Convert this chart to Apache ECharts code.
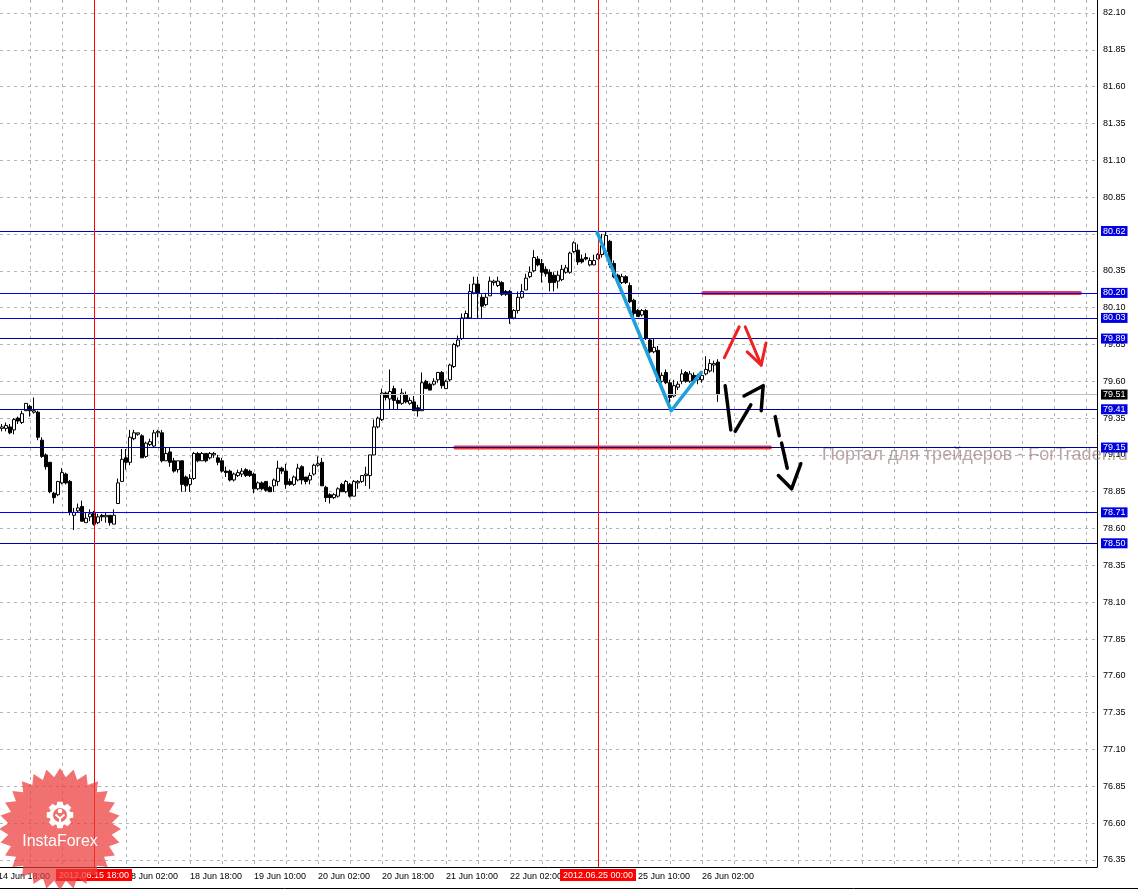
<!DOCTYPE html>
<html><head><meta charset="utf-8">
<script src="https://cdn.jsdelivr.net/npm/echarts@6/dist/echarts.min.js"></script>
<style>html,body{margin:0;padding:0;background:#fff}#c{width:1138px;height:890px}</style>
</head><body><div id="c"></div>
<script>
// ---- time axis: H1 bars starting 2012.06.14 18:00 (weekends skipped) ----
const startTime = '2012-06-14T18:00:00Z';
const barCount = 276;
// tick labels shown on the time axis
const xTickLabels = ['14 Jun 18:00','15 Jun 10:00','18 Jun 02:00','18 Jun 18:00','19 Jun 10:00','20 Jun 02:00',
  '20 Jun 18:00','21 Jun 10:00','22 Jun 02:00','22 Jun 18:00','25 Jun 10:00','26 Jun 02:00'];
const markedTimes = ['2012.06.15 18:00','2012.06.25 00:00'];
const gridEveryBars = 8;
// price scale tick labels
const yTicks = [76.35,76.60,76.85,77.10,77.35,77.60,77.85,78.10,78.35,78.60,78.85,79.10,79.35,79.60,79.85,80.10,80.35,80.60,80.85,81.10,81.35,81.60,81.85,82.10];

// ---- candles (index 0 = first bar, 14 Jun 18:00, off-screen) ----
const opens = [null,
79.28,79.28,79.29,79.27,79.35,79.32,79.40,79.43,79.39,79.39,
79.20,79.10,79.05,78.84,78.83,78.91,78.97,78.92,78.69,78.72,
78.75,78.64,78.68,78.71,78.64,78.69,78.68,78.69,78.63,78.77,
78.92,79.08,79.05,79.21,79.24,79.23,79.09,79.17,79.16,79.25,
79.25,79.06,79.12,79.06,79.00,79.06,78.95,78.90,78.94,79.11,
79.06,79.11,79.08,79.10,79.08,79.06,78.99,78.99,78.93,78.96,
78.97,79.00,78.99,78.97,78.87,78.91,78.92,78.88,78.89,78.92,
79.01,78.99,78.92,78.90,78.93,79.02,78.95,78.93,78.97,79.03,
79.05,78.88,78.83,78.81,78.82,78.90,78.85,78.90,78.82,78.91,
78.92,78.96,78.96,79.10,79.29,79.34,79.52,79.48,79.55,79.47,
79.45,79.51,79.45,79.46,79.42,79.40,79.60,79.58,79.58,79.61,
79.66,79.55,79.61,79.70,79.84,79.89,80.03,80.03,80.20,80.26,
80.17,80.12,80.18,80.27,80.25,80.27,80.21,80.21,80.03,80.08,
80.17,80.22,80.31,80.35,80.43,80.40,80.36,80.34,80.32,80.28,
80.29,80.34,80.34,80.48,80.49,80.43,80.44,80.39,80.39,80.43,
80.46,80.48,80.55,80.40,80.32,80.27,80.31,80.25,80.15,80.08,
80.05,80.08,79.88,79.80,79.81,79.60,79.66,79.59,79.50,79.56,
79.60,79.66,79.60,79.64,79.61,79.61,79.65,79.67,79.71,79.73];
const closes = [null,
79.29,79.30,79.25,79.34,79.33,79.38,79.45,79.40,79.40,79.22,
79.09,79.02,78.85,78.81,78.92,78.98,78.91,78.71,78.71,78.74,
78.65,78.67,78.70,78.63,78.68,78.68,78.69,78.64,78.69,78.91,
79.07,79.05,79.22,79.25,79.25,79.08,79.18,79.19,79.25,79.26,
79.06,79.11,79.05,78.99,79.06,78.90,78.89,78.94,79.11,79.06,
79.11,79.06,79.11,79.11,79.05,78.99,78.98,78.93,78.97,78.98,
78.99,78.96,78.96,78.87,78.91,78.87,78.86,78.85,78.93,79.01,
78.99,78.90,78.90,78.95,79.01,78.93,78.92,78.96,79.03,79.04,
78.89,78.81,78.81,78.83,78.87,78.85,78.92,78.82,78.92,78.92,
78.96,78.97,79.10,79.29,79.35,79.52,79.49,79.53,79.47,79.45,
79.52,79.46,79.47,79.40,79.40,79.59,79.55,79.54,79.60,79.66,
79.57,79.60,79.71,79.85,79.88,80.03,80.06,80.21,80.26,80.20,
80.11,80.17,80.28,80.28,80.28,80.19,80.19,80.03,80.08,80.17,
80.21,80.30,80.34,80.44,80.39,80.34,80.33,80.27,80.27,80.32,
80.36,80.37,80.47,80.54,80.41,80.41,80.43,80.42,80.42,80.46,
80.52,80.59,80.39,80.31,80.27,80.31,80.27,80.14,80.06,80.04,
80.08,79.89,79.80,79.83,79.60,79.64,79.59,79.49,79.57,79.58,
79.65,79.60,79.65,79.60,79.64,79.64,79.68,79.72,79.72,79.51];
const lows = [null,
79.26,79.26,79.24,79.24,79.31,79.31,79.40,79.36,79.38,79.20,
79.08,79.00,78.84,78.77,78.82,78.90,78.90,78.69,78.59,78.71,
78.65,78.64,78.65,78.62,78.63,78.65,78.64,78.62,78.63,78.77,
78.92,79.00,79.03,79.20,79.23,79.08,79.08,79.16,79.15,79.22,
79.05,79.06,79.02,78.98,78.98,78.85,78.85,78.85,78.93,79.05,
79.06,79.05,79.07,79.08,79.03,78.98,78.95,78.92,78.92,78.95,
78.95,78.95,78.95,78.84,78.86,78.86,78.85,78.85,78.85,78.89,
78.97,78.87,78.89,78.89,78.92,78.90,78.90,78.90,78.96,79.02,
78.89,78.78,78.77,78.80,78.81,78.85,78.84,78.81,78.82,78.87,
78.91,78.89,78.87,79.10,79.28,79.33,79.47,79.41,79.41,79.41,
79.44,79.45,79.44,79.40,79.36,79.40,79.55,79.54,79.57,79.59,
79.55,79.55,79.60,79.69,79.83,79.88,80.03,80.03,80.19,80.03,
80.03,80.11,80.18,80.25,80.24,80.18,80.18,79.99,80.02,80.06,
80.16,80.22,80.30,80.34,80.38,80.27,80.31,80.21,80.21,80.23,
80.28,80.33,80.33,80.47,80.39,80.40,80.42,80.38,80.39,80.43,
80.44,80.47,80.37,80.30,80.26,80.26,80.26,80.13,80.04,80.04,
80.04,79.88,79.79,79.79,79.59,79.59,79.58,79.44,79.49,79.54,
79.58,79.59,79.59,79.59,79.58,79.59,79.64,79.66,79.66,79.46];
const highs = [null,
79.31,79.32,79.31,79.35,79.36,79.40,79.45,79.44,79.49,79.40,
79.22,79.11,79.05,78.85,78.92,79.01,78.98,78.93,78.74,78.77,
78.79,78.71,78.73,78.72,78.70,78.70,78.71,78.69,78.73,78.94,
79.14,79.14,79.27,79.27,79.25,79.24,79.19,79.21,79.27,79.27,
79.27,79.15,79.15,79.08,79.06,79.06,78.96,78.97,79.12,79.12,
79.12,79.11,79.12,79.12,79.10,79.08,79.02,79.00,78.98,79.00,
79.01,79.01,79.00,78.98,78.92,78.92,78.92,78.89,78.94,79.06,
79.02,79.04,78.94,78.96,79.04,79.03,78.95,78.98,79.04,79.09,
79.08,78.89,78.84,78.84,78.88,78.91,78.93,78.91,78.93,78.93,
78.96,79.02,79.10,79.34,79.36,79.55,79.53,79.68,79.57,79.49,
79.55,79.53,79.49,79.50,79.44,79.66,79.61,79.59,79.62,79.66,
79.67,79.61,79.72,79.86,79.91,80.06,80.08,80.26,80.31,80.31,
80.19,80.20,80.31,80.29,80.31,80.28,80.22,80.22,80.09,80.21,
80.26,80.33,80.38,80.49,80.45,80.43,80.38,80.36,80.34,80.35,
80.39,80.39,80.48,80.55,80.53,80.46,80.47,80.44,80.46,80.47,
80.60,80.62,80.56,80.42,80.33,80.33,80.32,80.27,80.16,80.09,
80.09,80.09,79.89,79.89,79.84,79.66,79.68,79.61,79.61,79.60,
79.68,79.67,79.67,79.66,79.65,79.66,79.77,79.75,79.74,79.75];

// ---- horizontal levels ----
const blueLevels = [80.62, 80.20, 80.03, 79.89, 79.41, 79.15, 78.71, 78.50];
const blueLevelColors = ['#0000c8','#0000ff','#0000e6','#0000a0','#0000a0','#0000a0','#0000ff','#0000a8'];
const bidPrice = 79.51;

// ---- drawn annotations, in (bar index, price) ----
const redZones = [[[176.3, 80.20],[270.5, 80.20]], [[114.3, 79.15],[193.0, 79.15]]];
const blueZigzag = [[149.8, 80.61],[168.3, 79.40],[175.8, 79.66]];
const redArrow = [[[181.6,79.76],[185.3,79.97]], [[186.8,79.97],[190.8,79.71]], [[187.3,79.80],[190.8,79.71],[192.0,79.86]]];
const blackArrow = [[[181.8,79.57],[183.2,79.27]], [[184.3,79.26],[188.2,79.44]], [[186.5,79.50],[191.3,79.57],[190.8,79.40]],
  [[194.3,79.36],[195.3,79.23]], [[195.9,79.18],[197.3,79.01]], [[195.1,78.96],[198.4,78.87],[200.7,79.04]]];

const watermark = 'Портал для трейдеров - ForTrader.ru';
const logoText = 'InstaForex';

// ---- build time categories ----
const months = ['Jan','Feb','Mar','Apr','May','Jun','Jul','Aug','Sep','Oct','Nov','Dec'];
const pad = n => (n < 10 ? '0' : '') + n;
const categories = [], shortLabels = [];
let t = Date.parse(startTime);
while (categories.length < barCount) {
  const d = new Date(t), wd = d.getUTCDay();
  if (wd !== 0 && wd !== 6) {
    categories.push(d.getUTCFullYear() + '.' + pad(d.getUTCMonth() + 1) + '.' + pad(d.getUTCDate()) + ' ' + pad(d.getUTCHours()) + ':00');
    shortLabels.push(d.getUTCDate() + ' ' + months[d.getUTCMonth()] + ' ' + pad(d.getUTCHours()) + ':00');
  }
  t += 3600000;
}
const candleData = [];
opens.forEach((o, k) => { if (o != null) candleData.push([k, o, closes[k], lows[k], highs[k]]); });
const labelIdx = xTickLabels.map(s => shortLabels.indexOf(s));
const gridIdx = [];
for (let k = gridEveryBars; k < barCount; k += gridEveryBars) gridIdx.push(k);

const FONT = 'Liberation Sans';
const X_MIN = 0.5, X_MAX = 274.75;   // bar index range visible in the plot
const chart = echarts.init(document.getElementById('c'), null, {renderer: 'canvas'});

const markData = [];
blueLevels.forEach((v, k) => markData.push({
  yAxis: v, lineStyle: {color: blueLevelColors[k], width: 1, type: 'solid'},
  label: {show: true, position: 'end', distance: 4, formatter: v.toFixed(2), color: '#fff',
    backgroundColor: '#0000e0', padding: [1, 2, 0, 2], fontSize: 9, fontFamily: FONT}
}));
markData.push({
  yAxis: bidPrice, lineStyle: {color: '#c0c0c0', width: 1, type: 'solid'},
  label: {show: true, position: 'end', distance: 4, formatter: bidPrice.toFixed(2), color: '#fff',
    backgroundColor: '#000', padding: [1, 2, 0, 2], fontSize: 9, fontFamily: FONT}
});
markedTimes.forEach(s => markData.push({
  xAxis: categories.indexOf(s), lineStyle: {color: '#ff0000', width: 1, type: 'solid'},
  label: {show: true, position: 'start', distance: 2, formatter: s, color: '#fff',
    backgroundColor: '#ff0000', padding: [2, 3, 1, 3], fontSize: 9, fontFamily: FONT}
}));

const series = [{
  type: 'candlestick', name: 'price', data: candleData, barWidth: 3,
  encode: {x: 0, y: [1, 2, 3, 4]},
  itemStyle: {color: '#ffffff', color0: '#000000', borderColor: '#000000', borderColor0: '#000000', borderWidth: 1},
  markLine: {silent: true, symbol: ['none', 'none'], animation: false, data: markData},
  z: 3
}];
const lineSeries = (pts, color, width, z) => ({
  type: 'line', data: pts, showSymbol: false, symbol: 'none', silent: true,
  lineStyle: {color: color, width: width, cap: 'round', join: 'round'}, z: z, animation: false
});
redZones.forEach(p => series.push(lineSeries(p, '#e83c3c', 4, 4)));
series.push(lineSeries(blueZigzag, '#1ea0dc', 3.5, 5));
redArrow.forEach(p => series.push(lineSeries(p, '#ee2222', 3, 5)));
blackArrow.forEach(p => series.push(lineSeries(p, '#000000', 3.5, 5)));

// logo shapes
const star = [];
{ const cx = 60, cy = 829, R = 61, r = 52, n = 28;
  for (let k = 0; k < 2 * n; k++) { const a = Math.PI * k / n - Math.PI / 2, rr = k % 2 ? r : R; star.push([cx + rr * Math.cos(a), cy + rr * Math.sin(a)]); } }
const gear = [];
{ const cx = 60, cy = 815, ro = 13.5, ri = 10.5;
  for (let k = 0; k < 8; k++) { const a = k * Math.PI / 4;
    gear.push([cx + ri * Math.cos(a - 0.32), cy + ri * Math.sin(a - 0.32)]);
    gear.push([cx + ro * Math.cos(a - 0.2), cy + ro * Math.sin(a - 0.2)]);
    gear.push([cx + ro * Math.cos(a + 0.2), cy + ro * Math.sin(a + 0.2)]);
    gear.push([cx + ri * Math.cos(a + 0.32), cy + ri * Math.sin(a + 0.32)]); } }

const graphics = [
  {type: 'text', left: 822, top: 446, z: 1, silent: true,
    style: {text: watermark, fill: 'rgba(140,110,110,0.62)', font: '18px "Liberation Sans"'}},
  {type: 'line', z: 50, silent: true, shape: {x1: 0, y1: 888.5, x2: 1138, y2: 888.5}, style: {stroke: '#000', lineWidth: 1}},
  {type: 'polygon', z: 100, silent: true, shape: {points: star}, style: {fill: 'rgba(236,58,58,0.72)'}},
  {type: 'polygon', z: 101, silent: true, shape: {points: gear}, style: {fill: '#ffffff'}},
  {type: 'circle', z: 102, silent: true, shape: {cx: 60, cy: 815, r: 7}, style: {fill: '#ef6f6f'}},
  {type: 'circle', z: 103, silent: true, shape: {cx: 60, cy: 811, r: 2.3}, style: {fill: '#ffffff'}},
  {type: 'polyline', z: 103, silent: true, shape: {points: [[55.5, 814.5], [60, 818.5], [64.5, 814.5]]}, style: {stroke: '#fff', lineWidth: 2, fill: null}},
  {type: 'line', z: 103, silent: true, shape: {x1: 60, y1: 818.5, x2: 60, y2: 823}, style: {stroke: '#fff', lineWidth: 2}},
  {type: 'text', z: 104, silent: true, x: 60, y: 842,
    style: {text: logoText, fill: '#ffffff', font: '16px "Liberation Sans"', textAlign: 'center', textVerticalAlign: 'middle'}}
];

chart.setOption({
  animation: false,
  backgroundColor: '#ffffff',
  grid: {left: 0, right: 41, top: 0, bottom: 23, containLabel: false},
  xAxis: {
    type: 'value', min: X_MIN, max: X_MAX, position: 'bottom',
    axisLine: {show: true, onZero: false, lineStyle: {color: '#000', width: 1}},
    axisTick: {show: false, customValues: gridIdx},
    axisLabel: {
      customValues: labelIdx.filter(v => v >= X_MIN),
      formatter: v => shortLabels[Math.round(v)], align: 'left', margin: 5,
      color: '#000', fontSize: 9, fontFamily: FONT, showMinLabel: true, showMaxLabel: true
    },
    splitLine: {show: true, lineStyle: {color: '#b4b4b4', type: [3, 4], width: 1}}
  },
  yAxis: {
    type: 'value', position: 'right', min: 76.3025, max: 82.1883,
    axisLine: {show: true, lineStyle: {color: '#000', width: 1}},
    axisTick: {show: false, customValues: yTicks},
    axisLabel: {customValues: yTicks, formatter: v => v.toFixed(2), margin: 6, color: '#000', fontSize: 9, fontFamily: FONT},
    splitLine: {show: true, lineStyle: {color: '#b4b4b4', type: [3, 4], width: 1}}
  },
  series: series,
  graphic: graphics
});

// first time label sits left of the plot edge: place it at its bar position through the axis scale
const firstIdx = labelIdx.filter(v => v < X_MIN);
firstIdx.forEach(v => {
  const px = chart.convertToPixel({xAxisIndex: 0}, v);
  graphics.splice(1, 0, {type: 'text', x: px, y: 872, z: 10, silent: true,
    style: {text: shortLabels[v], fill: '#000', font: '9px "Liberation Sans"', textAlign: 'left', textVerticalAlign: 'top'}});
});
chart.setOption({graphic: graphics}, {replaceMerge: ['graphic']});
</script>
</body></html>
